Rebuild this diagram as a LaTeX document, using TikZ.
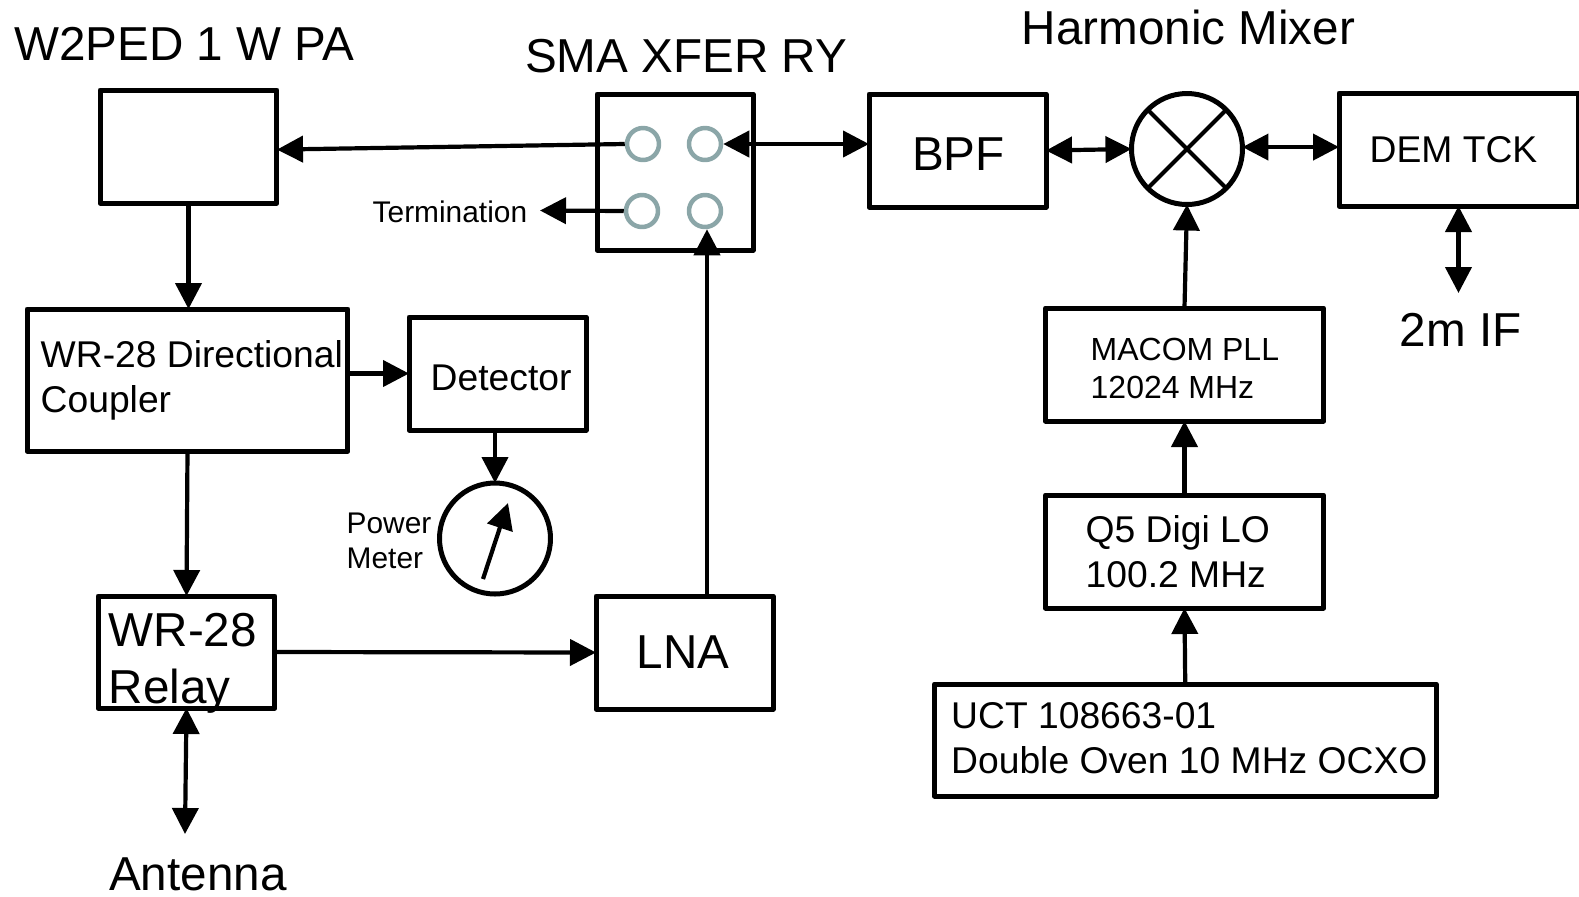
\documentclass[tikz,border=0pt]{standalone}
\usepackage{fontspec}
\setmainfont{Liberation Sans}
\usetikzlibrary{arrows.meta}

\begin{document}
\begin{tikzpicture}[x=0.1mm, y=-0.1mm, line join=round,
    >={Triangle[length=2.6mm,width=2.6mm]},
    blockbox/.style={draw, line width=0.5mm, inner sep=0pt, outer sep=0pt},
    roundbox/.style={draw, circle, line width=0.5mm, inner sep=0pt, outer sep=0pt, minimum size=11.1mm},
    portring/.style={draw=portgray, circle, line width=0.45mm, inner sep=0pt, minimum size=3.2mm},
    link/.style={line width=0.42mm},
    lab/.style={inner sep=0pt, anchor=base west, align=left},
    bigtext/.style={font=\fontsize{13.55}{16.2}\selectfont},
    midtext/.style={font=\fontsize{10.6}{12.8}\selectfont},
    pltext/.style={font=\fontsize{9.1}{10.9}\selectfont},
    smalltext/.style={font=\fontsize{8.5}{10}\selectfont}]
    \definecolor{portgray}{HTML}{8BA6A8}
    \useasboundingbox (0, 0) rectangle (1579, 896);

    \node[blockbox, minimum width=17.7mm, minimum height=11.3mm] (pa) at (188.5, 146.5) {};
    \node[blockbox, minimum width=32.1mm, minimum height=14.2mm] (coupler) at (187.5, 380) {};
    \node[blockbox, minimum width=17.7mm, minimum height=11.3mm] (det) at (497.5, 373.5) {};
    \node[blockbox, minimum width=17.7mm, minimum height=11.2mm] (relay) at (186.5, 652) {};
    \node[blockbox, minimum width=15.6mm, minimum height=15.6mm] (xfer) at (675, 172) {};
    \node[blockbox, minimum width=17.7mm, minimum height=11.3mm] (lna) at (684.5, 652.5) {};
    \node[blockbox, minimum width=17.7mm, minimum height=11.3mm] (bpf) at (957.5, 150.5) {};
    \node[blockbox, minimum width=23.9mm, minimum height=11.3mm] (dem) at (1458.5, 149.5) {};
    \node[blockbox, minimum width=27.8mm, minimum height=11.3mm] (pll) at (1184.5, 364.5) {};
    \node[blockbox, minimum width=27.8mm, minimum height=11.3mm] (digi) at (1184.5, 551.5) {};
    \node[blockbox, minimum width=50.15mm, minimum height=11.2mm] (uct) at (1185.25, 740) {};

    \node[roundbox] (mix) at (1187, 149) {};
    \node[roundbox] (meter) at (495, 538.5) {};
    \draw[line width=0.42mm] (mix.45) -- (mix.225);
    \draw[line width=0.42mm] (mix.135) -- (mix.315);

    \node[portring] (portA) at (643, 144) {};
    \node[portring] (portB) at (705, 144) {};
    \node[portring] (portC) at (642, 211) {};
    \node[portring] (portD) at (705, 211) {};

    \node[lab, bigtext] (paText) at (13.5, 60.5) {W2PED 1 W PA};
    \node[lab, bigtext] (xferText) at (524.5, 72.5) {SMA XFER RY};
    \node[lab, bigtext] (mixText) at (1021, 44.5) {Harmonic Mixer};
    \node[lab, bigtext] (ifText) at (1399, 346) {2m IF};
    \node[lab, bigtext] (bpfText) at (911.5, 170) {BPF};
    \node[lab, bigtext] (lnaText) at (636, 668) {LNA};
    \node[lab, bigtext] (relayTextA) at (108, 646) {WR-28};
    \node[lab, bigtext] (relayTextB) at (108, 703) {Relay};
    \node[lab, bigtext] (antText) at (108.5, 890) {Antenna};
    \node[lab, smalltext] (termText) at (372, 222) {Termination};
    \node[lab, smalltext] (powerText) at (346, 533.5) {Power};
    \node[lab, smalltext] (meterText) at (346, 568) {Meter};
    \node[lab, midtext] (coupTextA) at (40, 367) {WR-28 Directional};
    \node[lab, midtext] (coupTextB) at (40, 412) {Coupler};
    \node[lab, midtext] (detText) at (430, 390) {Detector};
    \node[lab, midtext] (demText) at (1369, 162) {DEM TCK};
    \node[lab, pltext] (pllTextA) at (1090, 360.5) {MACOM PLL};
    \node[lab, pltext] (pllTextB) at (1090, 398) {12024 MHz};
    \node[lab, midtext] (digiTextA) at (1085, 542) {Q5 Digi LO};
    \node[lab, midtext] (digiTextB) at (1085, 587) {100.2 MHz};
    \node[lab, midtext] (uctTextA) at (950.5, 728) {UCT 108663-01};
    \node[lab, midtext] (uctTextB) at (950.5, 773) {Double Oven 10 MHz OCXO};

    \coordinate (termTip) at (540, 210.5);
    \coordinate (lnaTap) at (707, 596);
    \coordinate (antTip) at (185, 834);
    \coordinate (ifTip) at (1458.5, 293);
    \coordinate (needleTail) at (483, 579);
    \coordinate (needleTip) at (508, 503);

    \draw[link, ->] (portA.west) -- (pa.-2);
    \draw[link, ->] (portC.west) -- (termTip);
    \draw[link, <->] (portB.east) -- (portB.east -| bpf.west);
    \draw[link, ->] (lnaTap) -- (lnaTap |- portD.south);
    \draw[link, ->] (relay.east) -- (lna.west);
    \draw[link, ->] (pa.south) -- (pa.south |- coupler.north);
    \draw[link, ->] (det.west -| coupler.east) -- (det.west);
    \draw[link, ->] (meter.north |- det.south) -- (meter.north);
    \draw[link, ->] (needleTail) -- (needleTip);
    \draw[link, ->] (coupler.south) -- (relay.north);
    \draw[link, <->] (relay.south) -- (antTip);
    \draw[link, <->] (bpf.east) -- (mix.west);
    \draw[link, <->] (mix.2) -- (mix.2 -| dem.west);
    \draw[link, <->] (dem.south) -- (ifTip);
    \draw[link, ->] (pll.north) -- (mix.south);
    \draw[link, ->] (digi.north) -- (pll.south);
    \draw[link, ->] (uct.north) -- (digi.south);
\end{tikzpicture}
\end{document}
